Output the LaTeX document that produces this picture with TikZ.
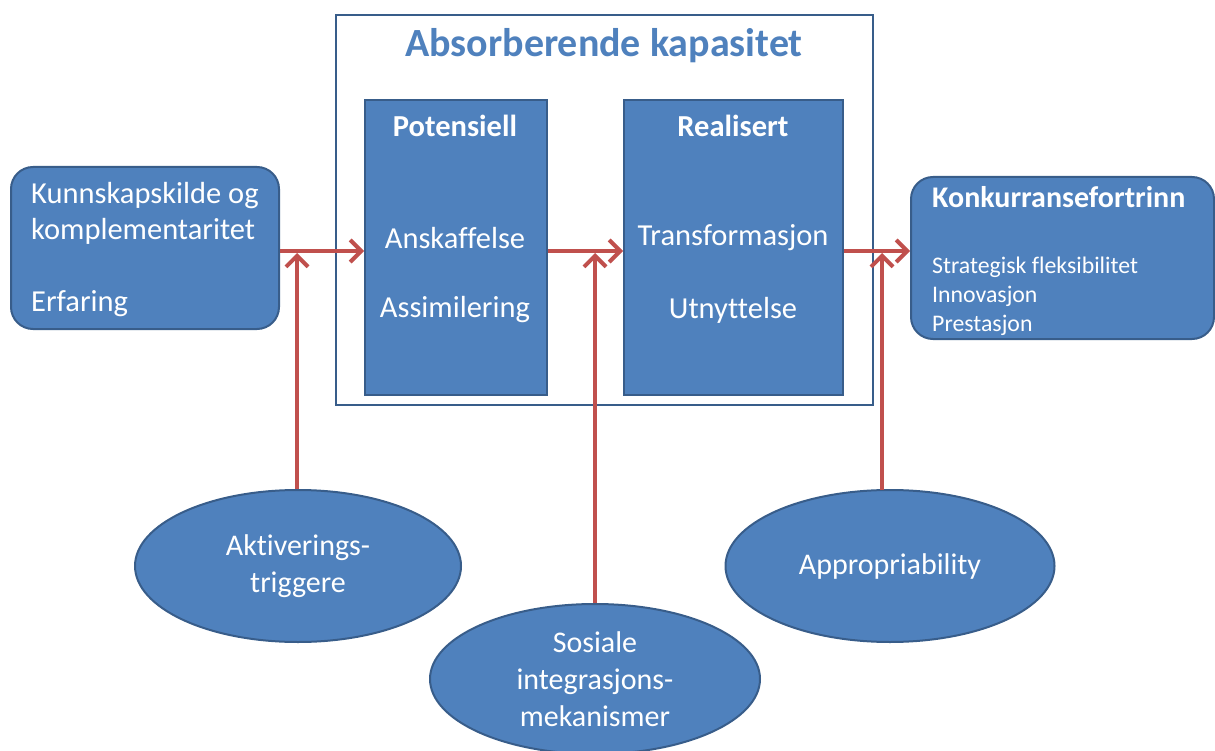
\documentclass[tikz,border=0pt]{standalone}
\usepackage{fontspec}
\setmainfont{Carlito}[Ligatures=NoCommon]
\usetikzlibrary{arrows.meta,shapes.geometric}
\definecolor{bfill}{HTML}{4F81BD}
\definecolor{bdraw}{HTML}{385D8A}
\definecolor{ared}{HTML}{C0504D}
\tikzset{
  bluebox/.style={draw=bdraw, fill=bfill, line width=2pt, inner sep=0pt},
  rbox/.style={bluebox, rounded corners=22pt},
  oval/.style={bluebox, ellipse, text=white, font=\fontsize{30}{37}\selectfont, align=center},
  wtxt/.style={text=white, font=\fontsize{30.5}{36}\selectfont, inner sep=0pt},
  wbold/.style={text=white, font=\fontsize{30.5}{36}\selectfont\bfseries, inner sep=0pt},
  arr/.style={draw=ared, line width=4pt, -{Straight Barb[length=11pt,width=22pt,line width=4pt]}},
}
\begin{document}
\begin{tikzpicture}[x=1pt,y=-1pt]
\useasboundingbox (0,0) rectangle (1215,751);
% outer frame
\node[draw=bdraw, line width=2pt, fill=white, minimum width=537, minimum height=390, inner sep=0pt, anchor=north west] (frame) at (335,14) {};
\node[text=bfill, font=\fontsize{40}{46}\selectfont\bfseries, inner sep=0pt] (title) at (604,46) {Absorberende kapasitet};
% inner boxes
\node[bluebox, minimum width=182, minimum height=295, anchor=north west] (pot) at (364,99) {};
\node[wbold] (potT) at (455,126) {Potensiell};
\node[wtxt] (potA) at (455,238) {Anskaffelse};
\node[wtxt] (potB) at (455,310) {Assimilering};
\node[bluebox, minimum width=219, minimum height=295, anchor=north west] (real) at (623,99) {};
\node[wbold] (realT) at (733,126) {Realisert};
\node[wtxt] (realA) at (733,238) {Transformasjon};
\node[wtxt] (realB) at (733,310) {Utnyttelse};
% left box
\node[rbox, minimum width=268, minimum height=162, anchor=north west] (src) at (10,166) {};
\node[wtxt, anchor=west, align=left] (srcA) at (31,213) {Kunnskapskilde og\\komplementaritet};
\node[wtxt, anchor=west] (srcB) at (31,304) {Erfaring};
% right box
\node[rbox, minimum width=303, minimum height=162, anchor=north west] (out) at (910,176) {};
\node[text=white, font=\fontsize{30}{36}\selectfont\bfseries, inner sep=0pt, anchor=west] (outT) at (932,197) {Konkurransefortrinn};
\node[text=white, font=\fontsize{23.8}{29}\selectfont, inner sep=0pt, anchor=north west, align=left] (outL) at (932,257) {Strategisk fleksibilitet\\Innovasjon\\Prestasjon};
% ellipses
\node[oval, minimum width=326, minimum height=152] (akt) at (298,566) {Aktiverings-\\triggere};
\node[oval, minimum width=330, minimum height=150] (sos) at (595,679) {Sosiale\\integrasjons-\\mekanismer};
\node[oval, minimum width=329, minimum height=152] (app) at (890,566) {Appropriability};
% horizontal arrows
\coordinate (h1) at (src.east |- 0,251);
\coordinate (h2) at (pot.east |- 0,251);
\coordinate (h3) at (real.east |- 0,251);
\draw[arr] (h1) -- (pot.west |- h1);
\draw[arr] (h2) -- (real.west |- h2);
\draw[arr] (h3) -- (out.west |- h3);
% vertical arrows
\coordinate (v1) at (297,253);
\coordinate (v2) at (595,253);
\coordinate (v3) at (882,253);
\draw[arr] (v1 |- akt.north) -- (v1);
\draw[arr] (sos.north) -- (v2);
\draw[arr] (v3 |- 0,490) -- (v3);
\end{tikzpicture}
\end{document}
